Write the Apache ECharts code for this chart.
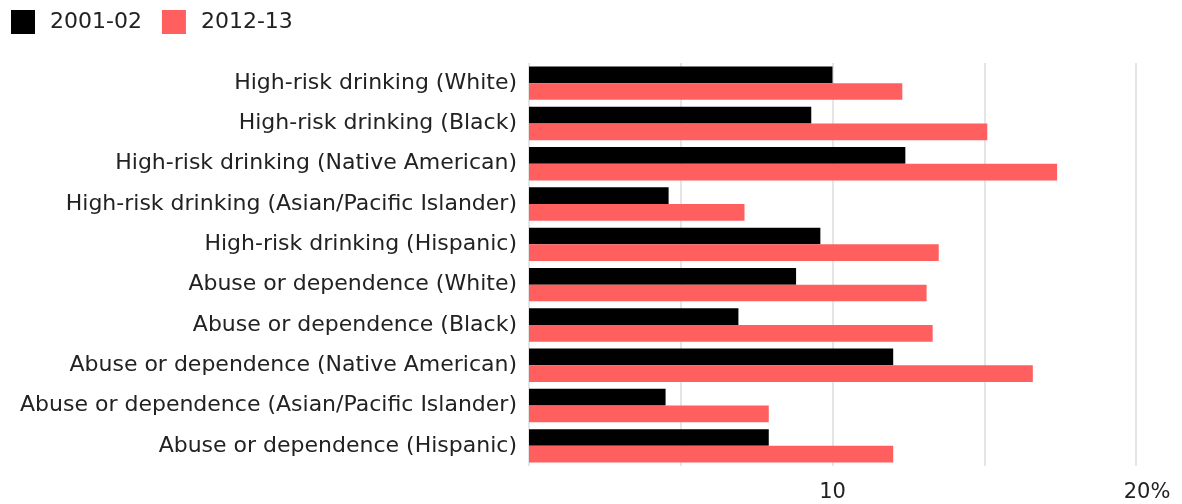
<!DOCTYPE html>
<html>
<head>
<meta charset="utf-8">
<script src="https://cdn.jsdelivr.net/npm/echarts@6/dist/echarts.min.js"></script>
<style>html,body{margin:0;padding:0;background:#fff}#c{width:1182px;height:504px}</style>
</head>
<body>
<div id="c"></div>
<script>
const categories = [
  "High-risk drinking (White)",
  "High-risk drinking (Black)",
  "High-risk drinking (Native American)",
  "High-risk drinking (Asian/Pacific Islander)",
  "High-risk drinking (Hispanic)",
  "Abuse or dependence (White)",
  "Abuse or dependence (Black)",
  "Abuse or dependence (Native American)",
  "Abuse or dependence (Asian/Pacific Islander)",
  "Abuse or dependence (Hispanic)"
];
const values2001 = [10.0, 9.3, 12.4, 4.6, 9.6, 8.8, 6.9, 12.0, 4.5, 7.9];
const values2012 = [12.3, 15.1, 17.4, 7.1, 13.5, 13.1, 13.3, 16.6, 7.9, 12.0];
const seriesNames = ["2001-02", "2012-13"];
const FONT = "DejaVu Sans";

const chart = echarts.init(document.getElementById('c'), null, {renderer: 'canvas'});
chart.setOption({
  animation: false,
  textStyle: {fontFamily: FONT},
  legend: {
    left: 11, top: 10, padding: 0,
    itemWidth: 24, itemHeight: 24, itemGap: 20,
    icon: 'rect',
    textStyle: {fontFamily: FONT, fontSize: 22, color: '#222', padding: [0, 0, 0, 10]},
    data: seriesNames
  },
  grid: {left: 529, right: 46, top: 63, bottom: 38, containLabel: false},
  xAxis: {
    type: 'value', min: 0, max: 20, interval: 5,
    axisLine: {show: false}, axisTick: {show: false},
    splitLine: {show: true, lineStyle: {color: '#dcdcdc', width: 1.5}},
    axisLabel: {
      margin: 16,
      fontFamily: FONT, fontSize: 21, color: '#222',
      formatter: function (v) {
        if (v === 10) return '10';
        if (v === 20) return '{p|20%}';
        return '';
      },
      rich: {p: {fontFamily: FONT, fontSize: 21, color: '#222', padding: [0, 0, 0, 22]}}
    }
  },
  yAxis: {
    type: 'category', inverse: true, data: categories,
    axisLine: {show: false}, axisTick: {show: false},
    axisLabel: {margin: 12, fontFamily: FONT, fontSize: 22, color: '#222'}
  },
  series: [
    {name: seriesNames[0], type: 'bar', data: values2001, itemStyle: {color: '#000000'},
     barGap: '0%', barCategoryGap: '17%'},
    {name: seriesNames[1], type: 'bar', data: values2012, itemStyle: {color: '#ff5f5f'},
     barGap: '0%', barCategoryGap: '17%'}
  ]
});
</script>
</body>
</html>
